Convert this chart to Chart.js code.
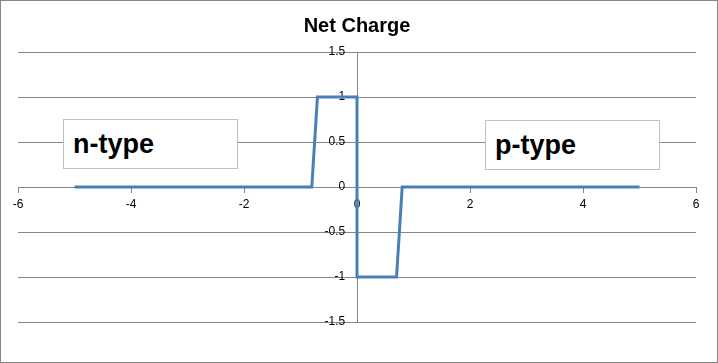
<!DOCTYPE html>
<html>
<head>
<meta charset="utf-8">
<script src="https://cdn.jsdelivr.net/npm/chart.js@4"></script>
<style>
  body { margin: 0; background: #fff; }
  #wrap { position: relative; width: 718px; height: 363px; box-sizing: border-box; border: 1px solid #868686; }
  #chart { display: block; }
  .label-box {
    position: absolute; box-sizing: border-box; width: 175px; height: 50px;
    border: 1px solid #bfbfbf; background: #fff;
    font: bold 27px "Liberation Sans", Arial, sans-serif; color: #000;
    padding: 9px 0 0 9px;
  }
</style>
</head>
<body>
<div id="wrap">
  <canvas id="chart" width="716" height="361"></canvas>
  <div class="label-box" style="left:62px; top:118px;">n-type</div>
  <div class="label-box" style="left:484px; top:119px;">p-type</div>
</div>
<script>
// Net charge across the junction (position on x, charge on y)
const position = [-5, -0.8, -0.7, 0, 0, 0.7, 0.8, 5];
const netCharge = [0, 0, 1, 1, -1, -1, 0, 0];

const xTicks = [-6, -4, -2, 0, 2, 4, 6];
const yTicks = [-1.5, -1, -0.5, 0, 0.5, 1, 1.5];

const gridColor = '#868686';
const tickFont = { family: 'Liberation Sans', size: 12 };

const ctx = document.getElementById('chart').getContext('2d');
new Chart(ctx, {
    type: 'line',
    data: {
        datasets: [{
            label: 'Net Charge',
            data: position.map((x, i) => ({ x: x, y: netCharge[i] })),
            borderColor: '#4a7ebb',
            borderWidth: 3,
            pointRadius: 0,
            tension: 0,
            fill: false
        }]
    },
    options: {
        responsive: false,
        animation: false,
        layout: { padding: { left: 17, right: 21, top: 0, bottom: 40 } },
        plugins: {
            legend: { display: false },
            tooltip: { enabled: false },
            title: {
                display: true,
                text: 'Net Charge',
                color: '#000',
                font: { family: 'Liberation Sans', size: 20, weight: 'bold' },
                padding: { top: 13, bottom: 14 }
            }
        },
        scales: {
            x: {
                type: 'linear',
                position: { y: 0 },
                min: -6, max: 6,
                afterBuildTicks: s => { s.ticks = xTicks.map(v => ({ value: v })); },
                afterFit: s => { s.height = 0; },
                grid: { drawOnChartArea: false, drawTicks: true, tickLength: 5, color: gridColor },
                border: { color: gridColor, width: 1 },
                ticks: { color: '#000', font: tickFont, padding: 5, maxRotation: 0 }
            },
            // axis line and horizontal gridlines at x = 0
            y: {
                type: 'linear',
                position: { x: 0 },
                min: -1.5, max: 1.5,
                afterBuildTicks: s => { s.ticks = yTicks.map(v => ({ value: v })); },
                afterFit: s => { s.width = 0; },
                grid: { drawOnChartArea: true, drawTicks: false, color: gridColor },
                border: { color: gridColor, width: 1 },
                ticks: { display: false }
            },
            // tick labels, set a little left of the axis line
            yLabels: {
                type: 'linear',
                axis: 'y',
                position: { x: -0.21 },
                min: -1.5, max: 1.5,
                afterBuildTicks: s => { s.ticks = yTicks.map(v => ({ value: v })); },
                afterFit: s => { s.width = 0; },
                grid: { display: false },
                border: { display: false },
                ticks: { color: '#000', font: tickFont, callback: v => String(v) }
            }
        }
    }
});
</script>
</body>
</html>
